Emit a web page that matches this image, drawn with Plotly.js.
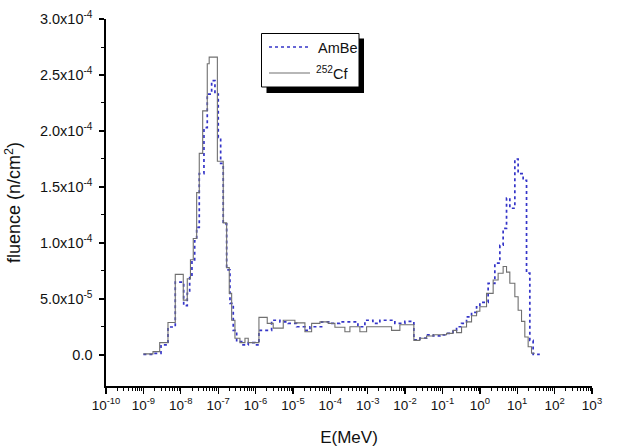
<!DOCTYPE html>
<html>
<head>
<meta charset="utf-8">
<script src="https://cdn.plot.ly/plotly-3.0.1.min.js"></script>
<style>html,body{margin:0;padding:0;background:#fff;}#chart{width:617px;height:448px;}</style>
</head>
<body>
<div id="chart"></div>
<script>
// Bin edges are given as log10(E / MeV); values are fluence per bin (n/cm^2)
const ambeLogEdges = [-9.0,-8.743,-8.529,-8.342,-8.147,-7.922,-7.826,-7.762,-7.701,-7.628,-7.575,-7.505,-7.380,-7.291,-7.174,-7.086,-6.997,-6.933,-6.864,-6.773,-6.684,-6.596,-6.505,-6.372,-6.195,-6.016,
  -5.909,-5.570,-5.348,-5.126,-4.901,-4.679,-4.545,-4.233,-4.011,-3.743,-3.262,-3.075,-2.861,-2.674,-2.273,-2.005,
  -1.765,-1.604,-1.425,-1.249,-1.07,-0.890,-0.717,-0.623,-0.489,-0.356,-0.222,-0.088,0.0,0.222,0.401,0.535,0.623,0.714,0.802,0.936,1.024,1.158,1.249,1.337,1.425,1.604];
const ambeValues = [5e-7,1.5e-6,9e-6,2.5e-5,6.5e-5,4.4e-5,5.5e-5,6.9e-5,8.5e-5,1.02e-4,1.14e-4,1.62e-4,2.03e-4,2.33e-4,2.45e-4,2.33e-4,1.94e-4,1.71e-4,1.17e-4,7.6e-5,4.6e-5,2.2e-5,1.2e-5,9e-6,1.1e-5,9e-6,
  2.2e-5,3.1e-5,2.96e-5,2.82e-5,2.52e-5,2.2e-5,2.52e-5,2.96e-5,2.82e-5,2.96e-5,2.52e-5,3.1e-5,2.82e-5,3.1e-5,2.82e-5,3.0e-5,
  1.34e-5,1.5e-5,1.8e-5,1.7e-5,1.8e-5,1.93e-5,2.2e-5,2.52e-5,2.82e-5,3.4e-5,3.8e-5,4.3e-5,4.7e-5,6.4e-5,8.2e-5,9.8e-5,1.13e-4,1.40e-4,1.31e-4,1.75e-4,1.62e-4,1.56e-4,7.3e-5,1.3e-5,5e-7];

const cfLogEdges = [-9.0,-8.743,-8.564,-8.342,-8.147,-7.933,-7.826,-7.741,-7.666,-7.575,-7.505,-7.414,-7.291,-7.24,-7.021,-6.864,-6.773,-6.703,-6.639,-6.551,-6.417,-6.283,-6.195,
  -5.909,-5.687,-5.527,-5.259,-4.947,-4.679,-4.5,-4.278,-4.056,-3.877,-3.61,-3.476,-3.209,-3.029,-2.361,-2.139,
  -1.765,-1.604,-1.425,-1.249,-0.890,-0.717,-0.623,-0.489,-0.356,-0.222,-0.088,0.0,0.179,0.356,0.489,0.623,0.714,0.802,0.936,1.024,1.115,1.203,1.292,1.382,1.471];
const cfValues = [1e-6,3e-6,1.1e-5,2.9e-5,7.2e-5,4.9e-5,6.8e-5,8.5e-5,1.04e-4,1.45e-4,1.80e-4,2.18e-4,2.60e-4,2.66e-4,1.73e-4,1.18e-4,7.8e-5,5.5e-5,3.1e-5,1.5e-5,1.1e-5,1.5e-5,1.1e-5,
  3.36e-5,2.82e-5,2.4e-5,3.1e-5,2.87e-5,2.07e-5,2.82e-5,2.96e-5,2.82e-5,2.47e-5,2.07e-5,2.52e-5,2.07e-5,2.52e-5,2.2e-5,2.7e-5,
  1.3e-5,1.5e-5,1.7e-5,1.8e-5,1.93e-5,2.2e-5,2.0e-5,2.5e-5,2.96e-5,3.5e-5,3.9e-5,4.3e-5,5.5e-5,6.7e-5,7.3e-5,7.9e-5,7.4e-5,6.4e-5,5.2e-5,4.0e-5,3.0e-5,1.6e-5,7.4e-6,1.5e-6];

const xTickExp = [-10,-9,-8,-7,-6,-5,-4,-3,-2,-1,0,1,2,3];
const yTickVals = [0,5e-5,1e-4,1.5e-4,2e-4,2.5e-4,3e-4];
const yTickText = ['0.0','5.0x10<sup>-5</sup>','1.0x10<sup>-4</sup>','1.5x10<sup>-4</sup>','2.0x10<sup>-4</sup>','2.5x10<sup>-4</sup>','3.0x10<sup>-4</sup>'];
const seriesNames = ['AmBe','<sup>252</sup>Cf'];
const seriesColors = ['#3434c8','#707070'];

function stepXY(logEdges, vals){
  const x = logEdges.map(v => Math.pow(10, v));
  const y = vals.concat([vals[vals.length-1]]);
  return {x, y};
}
const a = stepXY(ambeLogEdges, ambeValues);
const c = stepXY(cfLogEdges, cfValues);

const xMinor = [];
for (let d = -10; d < 3; d++) for (let k = 2; k <= 9; k++) xMinor.push(k*Math.pow(10,d));
const yMinor = [];
for (let i = 0; i < yTickVals.length-1; i++) yMinor.push((yTickVals[i]+yTickVals[i+1])/2);

const traces = [
  {x:a.x, y:a.y, type:'scatter', mode:'lines', name:seriesNames[0], showlegend:false, line:{shape:'hv', color:seriesColors[0], width:1.7, dash:'dot'}},
  {x:c.x, y:c.y, type:'scatter', mode:'lines', name:seriesNames[1], showlegend:false, line:{shape:'hv', color:seriesColors[1], width:1.1}}
];

const L=106, R=25, T=19, B=62, W=617, H=448;
const pw = W-L-R, ph = H-T-B;
function px2paperX(p){return (p-L)/pw;}
function px2paperY(p){return (H-B-p)/ph;}

// hand-drawn legend (box with drop shadow), positions in pixels
const legBox = {x0:261.5, x1:359, y0:33.5, y1:87};
const shadowOff = 5;
const legRows = [47, 73];

const shapes = [
  {type:'rect', xref:'paper', yref:'paper', x0:px2paperX(legBox.x0+shadowOff), x1:px2paperX(legBox.x1+shadowOff),
   y0:px2paperY(legBox.y1+shadowOff+1), y1:px2paperY(legBox.y0+shadowOff), fillcolor:'#000', line:{width:0}, layer:'above'},
  {type:'rect', xref:'paper', yref:'paper', x0:px2paperX(legBox.x0), x1:px2paperX(legBox.x1),
   y0:px2paperY(legBox.y1), y1:px2paperY(legBox.y0), fillcolor:'#fff', line:{color:'#000', width:1}, layer:'above'}
];
const annotations = [];
seriesNames.forEach((n,i)=>{
  shapes.push({type:'line', xref:'paper', yref:'paper', x0:px2paperX(269), x1:px2paperX(310),
    y0:px2paperY(legRows[i]), y1:px2paperY(legRows[i]), layer:'above',
    line:{color:seriesColors[i], width:i===0?1.7:1.1, dash:i===0?'dot':'solid'}});
  annotations.push({xref:'paper', yref:'paper', x:px2paperX(i===0?316:314), y:px2paperY(legRows[i]+(i===0?1:0)),
    xanchor:'left', yanchor:'middle', showarrow:false, text:n, font:{size:14.5, color:'#111'}});
});

const layout = {
  width:W, height:H,
  margin:{l:L, r:R, t:T, b:B, pad:0},
  paper_bgcolor:'#ffffff', plot_bgcolor:'#ffffff',
  font:{family:'Arial, "Liberation Sans", sans-serif', color:'#111', size:13},
  showlegend:false,
  xaxis:{type:'log', range:[-10,3], showgrid:false, zeroline:false,
    showline:true, linecolor:'#000', linewidth:1.6, mirror:false,
    ticks:'outside', ticklen:6, tickwidth:1.3, tickcolor:'#000',
    tickmode:'array', tickvals:xTickExp.map(e=>Math.pow(10,e)),
    ticktext:xTickExp.map(e=>'10<sup>'+e+'</sup>'),
    tickfont:{size:13.5, color:'#111'},
    minor:{tickmode:'array', tickvals:xMinor, ticks:'outside', ticklen:3, tickwidth:1, tickcolor:'#000', showgrid:false},
    title:{text:'E(MeV)', font:{size:17, color:'#111'}, standoff:19}},
  yaxis:{range:[-2.77e-5, 3.0e-4], showgrid:false, zeroline:false,
    showline:true, linecolor:'#000', linewidth:1.6,
    ticks:'outside', ticklen:5, tickwidth:1.3, tickcolor:'#000',
    tickmode:'array', tickvals:yTickVals, ticktext:yTickText, ticklabelstandoff:4,
    tickfont:{size:14.5, color:'#111'},
    minor:{tickmode:'array', tickvals:yMinor, ticks:'outside', ticklen:3, tickwidth:1, tickcolor:'#000', showgrid:false},
    title:{text:'fluence (n/cm<sup>2</sup>)', font:{size:18, color:'#111'}, standoff:14}},
  shapes:shapes,
  annotations:annotations
};

Plotly.newPlot('chart', traces, layout, {displayModeBar:false, staticPlot:true});
</script>
</body>
</html>
